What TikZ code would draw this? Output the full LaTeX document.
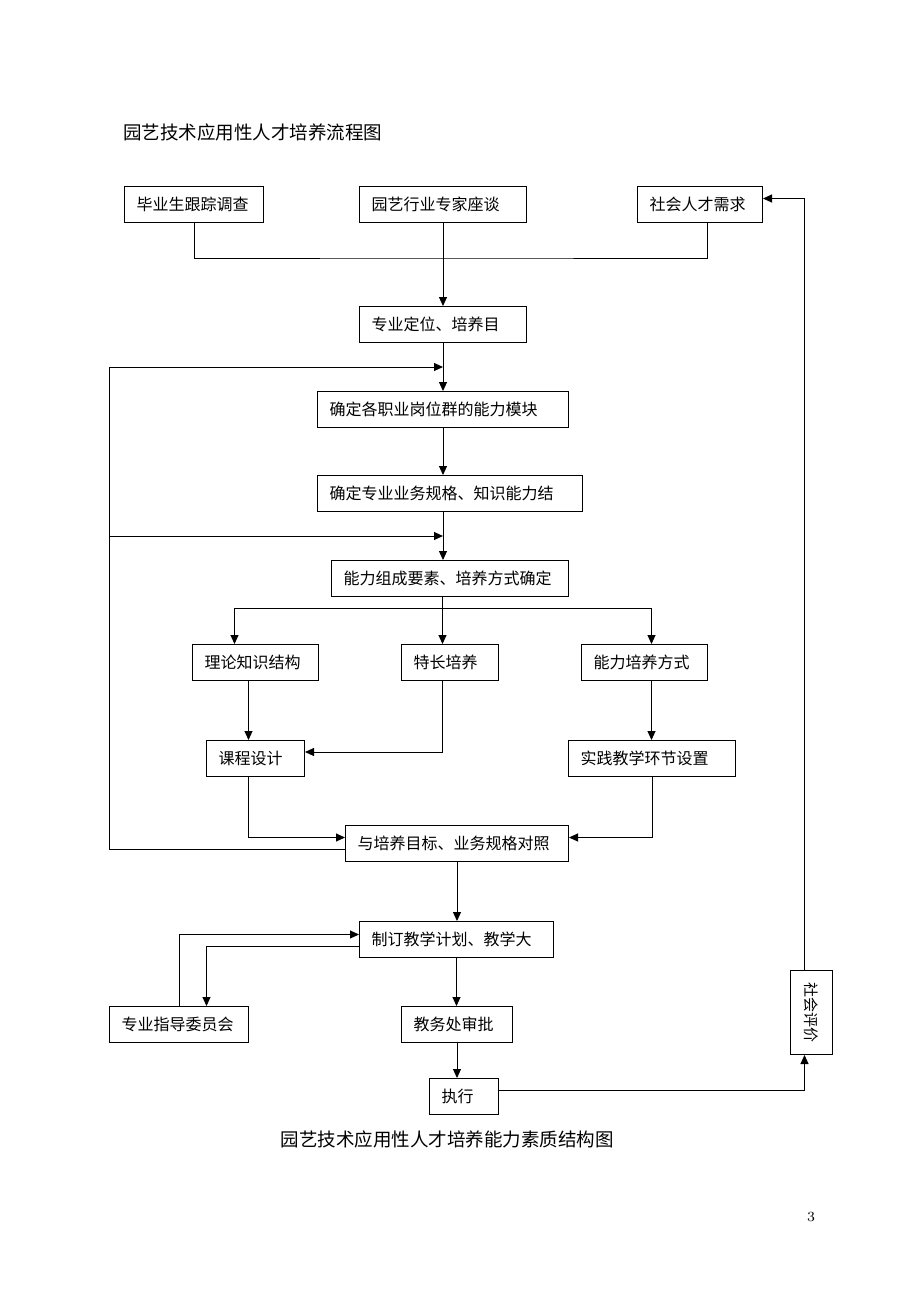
\documentclass[tikz,border=0pt]{standalone}
\usepackage{fontspec}
\usepackage{graphicx}
\newfontfamily\cjk{Noto Sans CJK SC}
\usetikzlibrary{arrows.meta}
\tikzstyle{box} = [rectangle, draw=black, line width=0.5pt, inner xsep=6pt, inner ysep=0pt, minimum height=18pt, align=left, anchor=north west, font=\cjk\fontsize{8pt}{9pt}\selectfont]
\tikzstyle{vbox} = [rectangle, draw=black, line width=0.5pt, inner sep=0pt, minimum width=21pt, minimum height=42pt, anchor=north west, font=\cjk\fontsize{7.5pt}{9pt}\selectfont]
\tikzstyle{caption} = [font=\cjk\fontsize{9.25pt}{11pt}\selectfont, inner sep=0pt]
\tikzstyle{line} = [line width=0.5pt]
\tikzstyle{arrow} = [line width=0.5pt,-{Triangle[length=4.5pt,width=4pt]}]

\begin{document}
\begin{tikzpicture}[x=0.5pt, y=-0.5pt]
	\useasboundingbox (0,0) rectangle (920,1302);
	\node (title) [caption, anchor=west] at (123,132) {园艺技术应用性人才培养流程图};
	\node (grad) [box, text width=57.5pt] at (124,186) {毕业生跟踪调查};
	\node (expert) [box, text width=71.5pt] at (359,186) {园艺行业专家座谈};
	\node (society) [box, text width=50.5pt] at (637,186) {社会人才需求};
	\node (position) [box, text width=71.5pt] at (359,306) {专业定位、培养目};
	\node (module) [box, text width=113.5pt] at (317,391) {确定各职业岗位群的能力模块};
	\node (spec) [box, text width=120.5pt] at (317,475) {确定专业业务规格、知识能力结};
	\node (elements) [box, text width=106.5pt] at (331,560) {能力组成要素、培养方式确定};
	\node (theory) [box, text width=51pt] at (192,644) {理论知识结构};
	\node (talent) [box, text width=36.5pt] at (401,644) {特长培养};
	\node (mode) [box, text width=51pt] at (581,644) {能力培养方式};
	\node (course) [box, text width=37pt] at (206,740) {课程设计};
	\node (practice) [box, text width=71.5pt] at (568,740) {实践教学环节设置};
	\node (compare) [box, text width=99.5pt] at (345,825) {与培养目标、业务规格对照};
	\node (plan) [box, text width=85pt] at (359,921) {制订教学计划、教学大};
	\node (committee) [box, text width=57.5pt] at (109,1006) {专业指导委员会};
	\node (approve) [box, text width=43.5pt] at (401,1006) {教务处审批};
	\node (exec) [box, text width=22.5pt] at (429,1078) {执行};
	\node (eval) [vbox] at (790,970) {\rotatebox[origin=c]{-90}{社会评价}};
	\node (caption) [caption] at (447,1139) {园艺技术应用性人才培养能力素质结构图};
	\node (page) [font=\fontsize{7pt}{8pt}\selectfont, inner sep=0pt] at (811,1217) {3};
	\coordinate (merge) at (442.5,258);
	\coordinate (split) at (442.5,608);
	\coordinate (fbtop) at (109,367);
	\coordinate (fbmid) at (109,536);
	\draw [line] (grad.south) |- (merge) -| ([xshift=3.75pt]society.south);
	\draw [arrow] (expert.south) -- (position.north);
	\draw [arrow] (position.south) -- (module.north);
	\draw [arrow] (module.south) -- (module.south |- spec.north);
	\draw [arrow] (module.south |- spec.south) -- (module.south |- elements.north);
	\draw [line] (split |- elements.south) -- (split);
	\draw [arrow] (split) -| ([xshift=-10.5pt]theory.north);
	\draw [arrow] (split) -- (split |- talent.north);
	\draw [arrow] (split) -| ([xshift=3.5pt]mode.north);
	\draw [arrow] ([xshift=-3.5pt]theory.south) -- ([xshift=-3.5pt]course.north);
	\draw [arrow] (split |- talent.south) |- ([yshift=3.25pt]course.east);
	\draw [arrow] ([xshift=3.5pt]mode.south) -- ([xshift=3.5pt]mode.south |- practice.north);
	\draw [arrow] ([xshift=-3.5pt]course.south) |- ([yshift=3pt]compare.west);
	\draw [arrow] (practice.south) |- ([yshift=3pt]compare.east);
	\draw [arrow] ([yshift=-3pt]compare.west) -| (fbtop) -- (fbtop -| module.north);
	\draw [arrow] (fbmid) -- (fbmid -| module.north);
	\draw [arrow] (compare.south) -- (compare.south |- plan.north);
	\draw [arrow] (committee.north) |- ([yshift=2.5pt]plan.west);
	\draw [arrow] ([yshift=-3.5pt]plan.west) -| ([xshift=13.75pt]committee.north);
	\draw [arrow] (plan.south) -- (plan.south |- approve.north);
	\draw [arrow] (approve.south) -- (approve.south |- exec.north);
	\draw [arrow] ([yshift=3pt]exec.east) -| ([xshift=-3.5pt]eval.south);
	\draw [arrow] ([xshift=-3.5pt]eval.north) |- ([yshift=3pt]society.east);
\end{tikzpicture}
\end{document}
